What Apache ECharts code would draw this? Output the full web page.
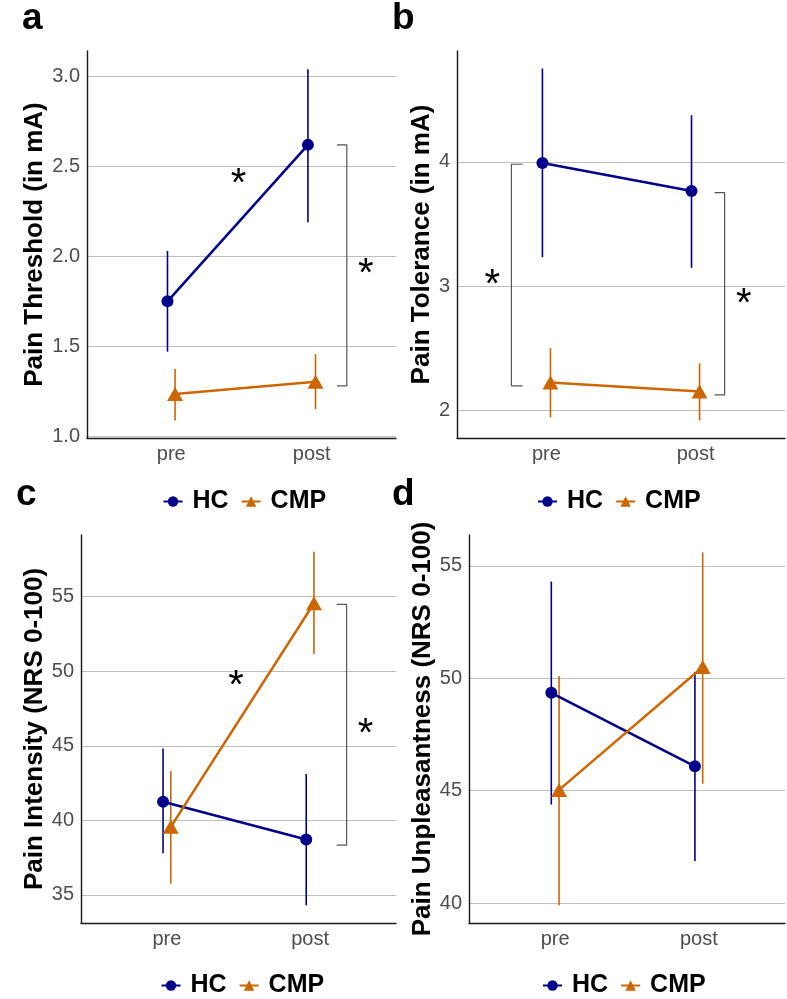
<!DOCTYPE html>
<html><head><meta charset="utf-8">
<script src="https://cdn.jsdelivr.net/npm/echarts@6/dist/echarts.min.js"></script>
<style>html,body{margin:0;padding:0;background:#fff}#c{width:787px;height:999px}</style>
</head><body><div id="c"></div><script>
// ---- data ----
const categories = ['pre', 'post'];
const groups = ['HC', 'CMP'];

// a: Pain Threshold (in mA)
const thresholdHC = [1.75, 2.62];
const thresholdHCLow = [1.47, 2.19];
const thresholdHCHigh = [2.03, 3.04];
const thresholdCMP = [1.235, 1.303];
const thresholdCMPLow = [1.087, 1.15];
const thresholdCMPHigh = [1.374, 1.456];
const thresholdTicks = [1.0, 1.5, 2.0, 2.5, 3.0];

// b: Pain Tolerance (in mA)
const toleranceHC = [3.99, 3.765];
const toleranceHCLow = [3.233, 3.148];
const toleranceHCHigh = [4.749, 4.374];
const toleranceCMP = [2.227, 2.155];
const toleranceCMPLow = [1.946, 1.922];
const toleranceCMPHigh = [2.503, 2.382];
const toleranceTicks = [2, 3, 4];

// c: Pain Intensity (NRS 0-100)
const intensityHC = [41.25, 38.72];
const intensityHCLow = [37.79, 34.31];
const intensityHCHigh = [44.83, 43.11];
const intensityCMP = [39.57, 54.56];
const intensityCMPLow = [35.76, 51.16];
const intensityCMPHigh = [43.31, 58.02];
const intensityTicks = [35, 40, 45, 50, 55];

// d: Pain Unpleasantness (NRS 0-100)
const unpleasantHC = [49.35, 46.08];
const unpleasantHCLow = [44.38, 41.87];
const unpleasantHCHigh = [54.3, 50.28];
const unpleasantCMP = [45.03, 50.5];
const unpleasantCMPLow = [39.9, 45.3];
const unpleasantCMPHigh = [50.1, 55.6];
const unpleasantTicks = [40, 45, 50, 55];

// significance annotations (data coordinates)
const bracketsA = [{ x: [2.18, 2.25], y: [2.62, 1.28] }];
const starsA = [[1.478, 2.452], [2.384, 1.952]];
const bracketsB = [{ x: [0.84, 0.765], y: [3.98, 2.2] }, { x: [2.128, 2.195], y: [3.753, 2.128] }];
const starsB = [[0.637, 3.08], [2.323, 2.928]];
const bracketsC = [{ x: [2.186, 2.255], y: [54.49, 38.34] }];
const starsC = [[1.482, 49.62], [2.387, 46.39]];
const bracketsD = [];
const starsD = [];

// ---- styles ----
const COL = { HC: '#00008B', CMP: '#CD6600' };
const FONT = 'Liberation Sans, Arial, Helvetica, sans-serif';
const DODGE = 0.027;

const panels = [
  { name: 'Pain Threshold (in mA)', hc: thresholdHC, hcLo: thresholdHCLow, hcHi: thresholdHCHigh,
    cmp: thresholdCMP, cmpLo: thresholdCMPLow, cmpHi: thresholdCMPHigh, ticks: thresholdTicks,
    fmt: v => v.toFixed(1), min: 0.99, max: 3.142, grid: { left: 87, top: 51, width: 309, height: 387 },
    nameGap: 39, brackets: bracketsA, stars: starsA, legend: { left: 162.5, top: 489 }, label: 'a', lab: { left: 22, top: 0 } },
  { name: 'Pain Tolerance (in mA)', hc: toleranceHC, hcLo: toleranceHCLow, hcHi: toleranceHCHigh,
    cmp: toleranceCMP, cmpLo: toleranceCMPLow, cmpHi: toleranceCMPHigh, ticks: toleranceTicks,
    fmt: v => String(v), min: 1.781, max: 4.89, grid: { left: 457, top: 51, width: 328, height: 387 },
    nameGap: 22, brackets: bracketsB, stars: starsB, legend: { left: 537, top: 489 }, label: 'b', lab: { left: 392, top: 0 } },
  { name: 'Pain Intensity (NRS 0-100)', hc: intensityHC, hcLo: intensityHCLow, hcHi: intensityHCHigh,
    cmp: intensityCMP, cmpLo: intensityCMPLow, cmpHi: intensityCMPHigh, ticks: intensityTicks,
    fmt: v => String(v), min: 33.12, max: 59.14, grid: { left: 81, top: 535, width: 315, height: 388 },
    nameGap: 33, brackets: bracketsC, stars: starsC, legend: { left: 160.5, top: 973 }, label: 'c', lab: { left: 16, top: 476 } },
  { name: 'Pain Unpleasantness (NRS 0-100)', hc: unpleasantHC, hcLo: unpleasantHCLow, hcHi: unpleasantHCHigh,
    cmp: unpleasantCMP, cmpLo: unpleasantCMPLow, cmpHi: unpleasantCMPHigh, ticks: unpleasantTicks,
    fmt: v => String(v), min: 39.11, max: 56.37, grid: { left: 469, top: 535, width: 316, height: 388 },
    nameGap: 32, brackets: bracketsD, stars: starsD, legend: { left: 542, top: 973 }, label: 'd', lab: { left: 392, top: 476 } }
];

const option = {
  animation: false,
  backgroundColor: '#fff',
  textStyle: { fontFamily: FONT },
  grid: [], xAxis: [], yAxis: [], series: [], legend: [], title: []
};

function errBars(i, name, color, lo, hi, shift) {
  return {
    type: 'custom', name: name + ' error', xAxisIndex: i, yAxisIndex: i, z: 1, silent: true,
    encode: { x: 0, y: [1, 2] },
    data: categories.map((c, k) => [k + 1 + shift, lo[k], hi[k]]),
    renderItem: (params, api) => {
      const p1 = api.coord([api.value(0), api.value(1)]);
      const p2 = api.coord([api.value(0), api.value(2)]);
      return { type: 'line', shape: { x1: p1[0], y1: p1[1], x2: p2[0], y2: p2[1] },
        style: { stroke: color, lineWidth: 1.6 } };
    }
  };
}

panels.forEach((p, i) => {
  option.grid.push(Object.assign({ containLabel: false }, p.grid));
  option.xAxis.push({
    gridIndex: i, type: 'value', min: 0.4, max: 2.6,
    splitLine: { show: false },
    axisTick: { show: false, customValues: [1, 2] },
    axisLine: { show: true, onZero: false, lineStyle: { color: '#1a1a1a', width: 1.4 } },
    axisLabel: { customValues: [1, 2], formatter: v => categories[Math.round(v) - 1],
      color: '#4D4D4D', fontSize: 20, margin: 6, fontFamily: FONT }
  });
  option.yAxis.push({
    gridIndex: i, type: 'value', min: p.min, max: p.max,
    name: p.name, nameLocation: 'middle', nameGap: p.nameGap, nameRotate: 90,
    nameTextStyle: { fontSize: 26, fontWeight: 'bold', color: '#000', fontFamily: FONT },
    axisLine: { show: true, onZero: false, lineStyle: { color: '#1a1a1a', width: 1.4 } },
    axisTick: { show: false, customValues: p.ticks },
    axisLabel: { customValues: p.ticks, formatter: p.fmt, color: '#4D4D4D', fontSize: 20, margin: 7, fontFamily: FONT },
    splitLine: { show: true, lineStyle: { color: '#BDBDBD', width: 1 } }
  });
  option.series.push(errBars(i, 'HC', COL.HC, p.hcLo, p.hcHi, -DODGE));
  option.series.push(errBars(i, 'CMP', COL.CMP, p.cmpLo, p.cmpHi, DODGE));
  option.series.push({
    type: 'line', name: 'HC', xAxisIndex: i, yAxisIndex: i, z: 3,
    data: categories.map((c, k) => [k + 1 - DODGE, p.hc[k]]),
    symbol: 'circle', symbolSize: 12, showAllSymbol: true,
    itemStyle: { color: COL.HC }, lineStyle: { color: COL.HC, width: 2.5 }
  });
  option.series.push({
    type: 'line', name: 'CMP', xAxisIndex: i, yAxisIndex: i, z: 3,
    data: categories.map((c, k) => [k + 1 + DODGE, p.cmp[k]]),
    symbol: 'triangle', symbolSize: [16, 14], showAllSymbol: true,
    itemStyle: { color: COL.CMP }, lineStyle: { color: COL.CMP, width: 2.5 }
  });
  p.brackets.forEach((b, j) => {
    option.series.push({
      type: 'line', name: 'bracket' + i + '_' + j, xAxisIndex: i, yAxisIndex: i, silent: true, z: 2,
      symbol: 'none', lineStyle: { color: '#555', width: 1.2 },
      data: [[b.x[0], b.y[0]], [b.x[1], b.y[0]], [b.x[1], b.y[1]], [b.x[0], b.y[1]]]
    });
  });
  if (p.stars.length) {
    option.series.push({
      type: 'custom', name: 'stars' + i, xAxisIndex: i, yAxisIndex: i, silent: true, z: 4,
      data: p.stars,
      renderItem: (params, api) => {
        const pt = api.coord([api.value(0), api.value(1)]);
        return { type: 'text', x: pt[0], y: pt[1] + 10,
          style: { text: '*', fill: '#000', font: '40px ' + FONT, align: 'center', verticalAlign: 'middle' } };
      }
    });
  }
  option.legend.push({
    data: groups, left: p.legend.left, top: p.legend.top, padding: 0, orient: 'horizontal',
    itemWidth: 19, itemHeight: 13, itemGap: 12, selectedMode: false,
    textStyle: { fontSize: 25, fontWeight: 'bold', color: '#000', fontFamily: FONT, padding: [0, 0, 0, 5] }
  });
  option.title.push({
    text: p.label, left: p.lab.left, top: p.lab.top, padding: 0,
    textStyle: { fontSize: 37, fontWeight: 'bold', color: '#000', fontFamily: FONT }
  });
});

const chart = echarts.init(document.getElementById('c'), null, { renderer: 'canvas' });
chart.setOption(option);
</script></body></html>
